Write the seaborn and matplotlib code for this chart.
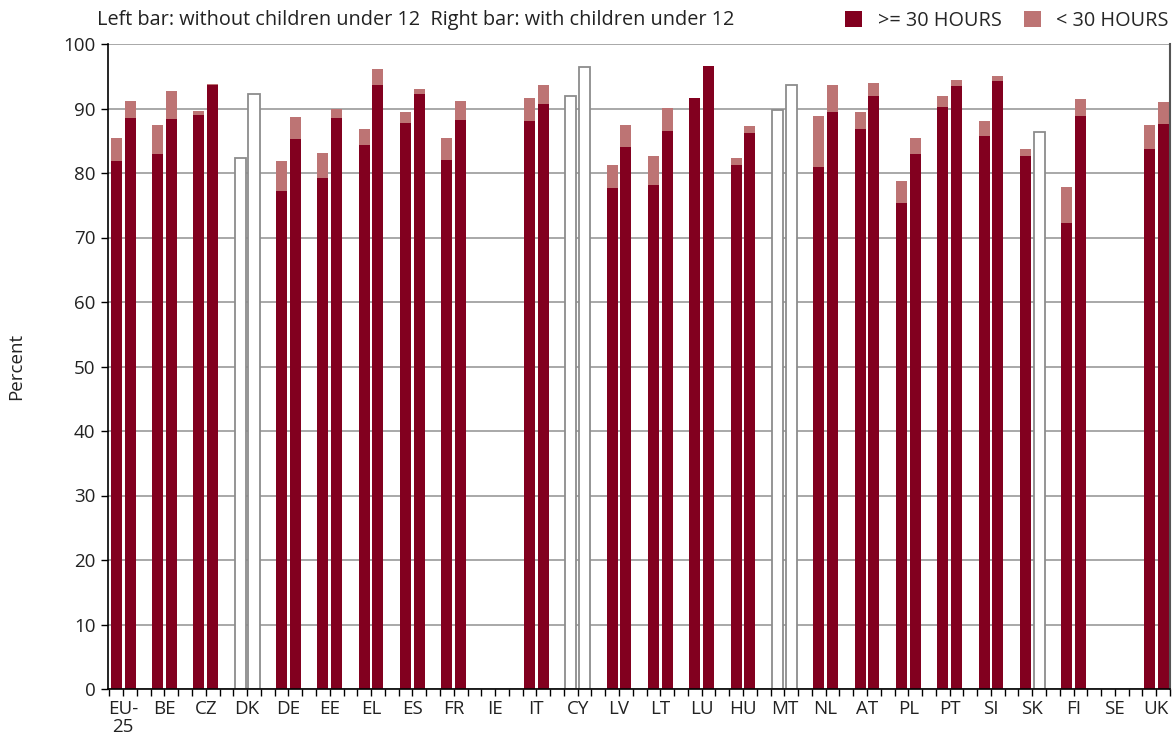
import numpy as np
import pandas as pd
import matplotlib
matplotlib.use("Agg")
import matplotlib.pyplot as plt
from matplotlib.patches import Patch
import seaborn as sns

nan = np.nan
countries = ["EU-\n25", "BE", "CZ", "DK", "DE", "EE", "EL", "ES", "FR", "IE", "IT", "CY", "LV",
             "LT", "LU", "HU", "MT", "NL", "AT", "PL", "PT", "SI", "SK", "FI", "SE", "UK"]
# Left bar: without children under 12 (total and >=30 hours part)
left_total = [85.5, 87.4, 89.6, 82.3, 81.8, 83.1, 86.8, 89.4, 85.4, nan, 91.6, 91.9, 81.3,
              82.6, 91.6, 82.4, 89.7, 88.8, 89.4, 78.7, 91.9, 88.0, 83.7, 77.9, nan, 87.4]
left_ge30 = [81.8, 82.9, 89.0, nan, 77.2, 79.2, 84.3, 87.7, 82.0, nan, 88.0, nan, 77.6,
             78.1, 91.6, 81.3, nan, 80.9, 86.8, 75.4, 90.2, 85.7, 82.7, 72.3, nan, 83.7]
# Right bar: with children under 12
right_total = [91.1, 92.7, 93.8, 92.3, 88.7, 89.9, 96.1, 93.0, 91.1, nan, 93.6, 96.5, 87.4,
               90.1, 96.6, 87.3, 93.7, 93.6, 93.9, 85.4, 94.4, 95.0, 86.3, 91.5, nan, 91.0]
right_ge30 = [88.5, 88.3, 93.6, nan, 85.2, 88.5, 93.6, 92.2, 88.2, nan, 90.7, nan, 84.0,
              86.5, 96.6, 86.2, nan, 89.4, 91.9, 82.9, 93.5, 94.2, nan, 88.9, nan, 87.6]

DARK = "#82001f"
LIGHT = "#bd7474"
TXT = "#222222"
FONT = ["Open Sans", "DejaVu Sans"]
FS = 13.5
FS_TOP = 14.3

sns.set_theme(style="white")
plt.rcParams["font.family"] = FONT

rows = []
for i, c in enumerate(countries):
    for side, tot, ge in (("L", left_total[i], left_ge30[i]), ("R", right_total[i], right_ge30[i])):
        pos = 3 * i + (0.5 if side == "L" else 1.5)
        rows.append(dict(country=c, pos=pos, total=tot, ge30=ge,
                         split=not np.isnan(ge)))
df = pd.DataFrame(rows)

fig = plt.figure(figsize=(11.75, 7.4), dpi=100)
ax = fig.add_axes([108 / 1175, 51 / 740, 1062 / 1175, 645 / 740])
ax.set_axisbelow(True)
ax.yaxis.grid(True, color="#9a9a9a", lw=1.2)
ax.xaxis.grid(False)

split = df[df["split"]]
empty = df[(~df["split"]) & df["total"].notna()]

sns.barplot(data=split, x="pos", y="total", native_scale=True, color=LIGHT,
            saturation=1, width=0.8, linewidth=0, ax=ax)
sns.barplot(data=split, x="pos", y="ge30", native_scale=True, color=DARK,
            saturation=1, width=0.8, linewidth=0, ax=ax)
sns.barplot(data=empty, x="pos", y="total", native_scale=True, color="white",
            saturation=1, width=0.8, edgecolor="#8c8c8c", linewidth=1.3, ax=ax)
for p in ax.patches:
    p.set_zorder(2)

ax.set_xlim(-0.1, 77)
ax.set_ylim(0, 100)
ax.set_xticks(np.arange(0, 78), minor=True)
ax.set_xticks([3 * i + 1 for i in range(len(countries))])
ax.set_xticklabels(countries, fontsize=FS, color=TXT, linespacing=1.0)
ax.set_yticks(range(0, 101, 10))
ax.set_yticklabels([str(v) for v in range(0, 101, 10)], fontsize=FS, color=TXT)
ax.tick_params(axis="x", which="both", direction="out", length=5, width=1, color="black", bottom=True)
ax.tick_params(axis="x", which="major", pad=3)
ax.tick_params(axis="y", direction="out", length=5, width=1, color="black", left=True, pad=4)
ax.set_xlabel("")
ax.set_ylabel("Percent", fontsize=FS, color=TXT)
ax.yaxis.set_label_coords(-0.078, 0.5)

for s in ("left", "bottom"):
    ax.spines[s].set_color("black")
    ax.spines[s].set_linewidth(1.2)
ax.spines["right"].set_color("#555555")
ax.spines["right"].set_linewidth(1.5)
ax.spines["top"].set_visible(False)

fig.text(97 / 1175, 1 - 20 / 740, "Left bar: without children under 12  Right bar: with children under 12",
         fontsize=FS_TOP, color=TXT, va="center", ha="left")

handles = [Patch(facecolor=DARK, edgecolor="none"), Patch(facecolor=LIGHT, edgecolor="none")]
fig.legend(handles, [">= 30 HOURS", "< 30 HOURS"], ncol=2, loc="center right",
           bbox_to_anchor=(1169 / 1175, 1 - 21 / 740), frameon=False, fontsize=FS_TOP,
           handlelength=0.85, handleheight=0.85, handletextpad=0.8, columnspacing=1.1,
           borderaxespad=0, borderpad=0)

fig.savefig("out.png", dpi=100)
